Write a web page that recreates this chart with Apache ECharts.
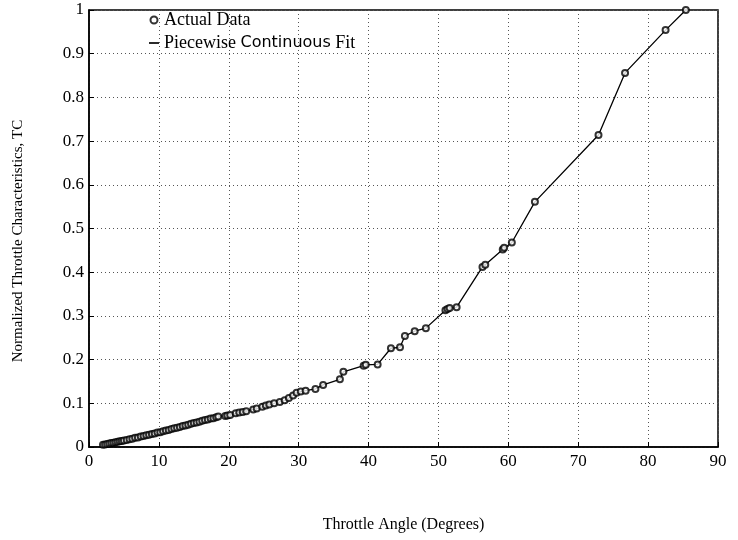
<!DOCTYPE html>
<html>
<head>
<meta charset="utf-8">
<script src="https://cdn.jsdelivr.net/npm/echarts@6/dist/echarts.min.js"></script>
<style>html,body{margin:0;padding:0;background:#fff;}#c{width:738px;height:540px;}</style>
</head>
<body>
<div id="c"></div>
<script>
var angle = [2.0,2.3,2.6,2.9,3.2,3.5,3.8,4.1,4.4,4.7,5.0,5.4,5.8,6.2,6.6,7.0,7.4,7.8,8.2,8.6,9.0,9.4,9.8,10.2,10.6,11.0,11.4,11.8,12.2,12.6,13.0,13.4,13.8,14.2,14.6,15.0,15.4,15.8,16.2,16.6,17.0,17.4,17.8,18.2,18.5,19.5,19.8,20.2,21.0,21.5,22.0,22.5,23.5,24.0,24.8,25.3,25.8,26.5,27.3,28.0,28.6,29.2,29.7,30.3,31.0,32.4,33.5,35.9,36.4,39.3,39.6,41.3,43.2,44.5,45.2,46.6,48.2,51.0,51.3,51.6,52.6,56.3,56.7,59.2,59.4,60.5,63.8,72.9,76.7,82.5,85.4];
var tc = [0.005,0.006,0.007,0.008,0.009,0.010,0.011,0.012,0.013,0.014,0.015,0.016,0.018,0.019,0.021,0.022,0.024,0.025,0.027,0.028,0.030,0.031,0.033,0.034,0.036,0.038,0.039,0.041,0.043,0.044,0.046,0.048,0.049,0.051,0.053,0.055,0.056,0.058,0.060,0.062,0.063,0.065,0.066,0.068,0.070,0.071,0.072,0.073,0.077,0.079,0.080,0.082,0.086,0.088,0.092,0.095,0.097,0.100,0.103,0.107,0.112,0.118,0.124,0.127,0.129,0.133,0.142,0.155,0.172,0.186,0.188,0.189,0.226,0.228,0.254,0.265,0.272,0.313,0.316,0.318,0.320,0.412,0.417,0.452,0.456,0.468,0.561,0.714,0.856,0.954,1.0];
var xTicks = [0,10,20,30,40,50,60,70,80,90];
var yTicks = [0,0.1,0.2,0.3,0.4,0.5,0.6,0.7,0.8,0.9,1];
var seriesNames = ['Actual Data','Piecewise Continuous Fit'];
var xTitle = 'Throttle Angle (Degrees)';
var yTitle = 'Normalized Throttle Characteristics, TC';

var pts = angle.map(function(a,i){return [a, tc[i]];});
var font = 'Liberation Serif';
var chart = echarts.init(document.getElementById('c'));
chart.setOption({
  animation:false,
  backgroundColor:'#fff',
  grid:{left:89,right:20,top:10,bottom:93,show:true,borderColor:'#000',borderWidth:1.5},
  legend:{
    orient:'vertical', left:144, top:6, itemGap:5, itemWidth:10, itemHeight:7,
    textStyle:{fontFamily:font,fontSize:18,color:'#000',
      rich:{c:{fontFamily:'DejaVu Sans',fontSize:16,color:'#000'},n:{fontFamily:font,fontSize:18,color:'#000'}}},
    formatter:function(name){
      if(name===seriesNames[1]){return '{n|Piecewise }{c|Continuous}{n| Fit}';}
      return name;
    },
    data:[{name:seriesNames[0],icon:'emptyCircle'},{name:seriesNames[1],icon:'path://M2,5L8,5L8,6L2,6Z'}]
  },
  xAxis:{
    type:'value',min:xTicks[0],max:xTicks[xTicks.length-1],interval:10,
    name:xTitle,nameLocation:'middle',nameGap:70,
    nameTextStyle:{fontFamily:font,fontSize:16,color:'#000'},
    axisLine:{show:true,lineStyle:{color:'#000',width:1.5}},
    axisTick:{inside:true,length:5,lineStyle:{color:'#000'}},
    axisLabel:{fontFamily:font,fontSize:17,color:'#000',margin:6},
    splitLine:{show:true,lineStyle:{color:'#555',type:[1,3],width:1}}
  },
  yAxis:{
    type:'value',min:yTicks[0],max:yTicks[yTicks.length-1],interval:0.1,
    axisLine:{show:true,lineStyle:{color:'#000',width:1.5}},
    axisTick:{inside:true,length:5,lineStyle:{color:'#000'}},
    axisLabel:{fontFamily:font,fontSize:17,color:'#000',margin:5,
      formatter:function(v){return String(Math.round(v*10)/10);}},
    splitLine:{show:true,lineStyle:{color:'#555',type:[1,3],width:1}}
  },
  graphic:[{type:'text',x:18,y:241,rotation:Math.PI/2,
    style:{text:yTitle,fontFamily:font,fontSize:15,fill:'#000',align:'center',verticalAlign:'middle'}}],
  series:[
    {name:seriesNames[0],type:'scatter',data:pts,symbol:'emptyCircle',symbolSize:6,
     itemStyle:{color:'#000',borderColor:'#000',borderWidth:0.8},z:3},
    {name:seriesNames[1],type:'line',data:pts,showSymbol:false,symbol:'none',
     lineStyle:{color:'#000',width:1.3},itemStyle:{color:'#000'},z:2}
  ]
});
</script>
</body>
</html>
